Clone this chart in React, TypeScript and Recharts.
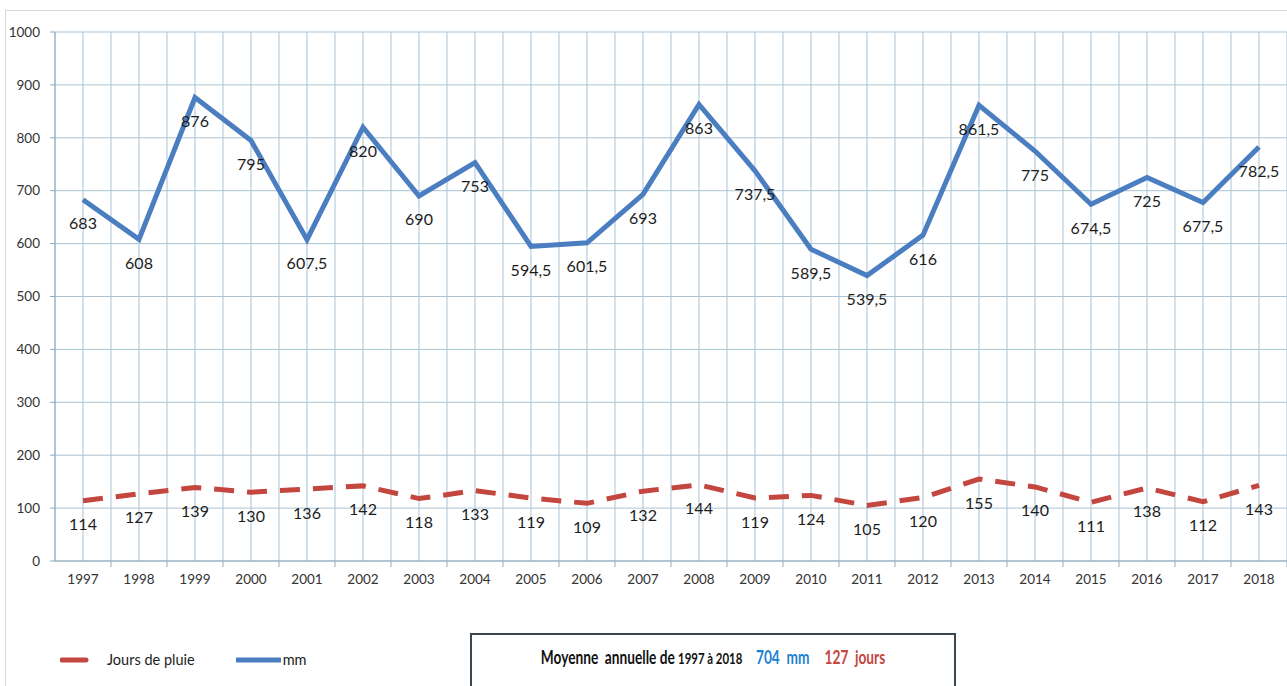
import React from 'react'
import { LineChart, Line, XAxis, YAxis, CartesianGrid, LabelList } from 'recharts'

const years = ['1997', '1998', '1999', '2000', '2001', '2002', '2003', '2004', '2005', '2006', '2007',
  '2008', '2009', '2010', '2011', '2012', '2013', '2014', '2015', '2016', '2017', '2018']
const mm = [683, 608, 876, 795, 607.5, 820, 690, 753, 594.5, 601.5, 693,
  863, 737.5, 589.5, 539.5, 616, 861.5, 775, 674.5, 725, 677.5, 782.5]
const jours = [114, 127, 139, 130, 136, 142, 118, 133, 119, 109, 132,
  144, 119, 124, 105, 120, 155, 140, 111, 138, 112, 143]
const yTicks = [0, 100, 200, 300, 400, 500, 600, 700, 800, 900, 1000]

const data = years.map((y, i) => ({ year: y, mm: mm[i], jours: jours[i] }))

const W = 1287
const H = 686
const Y_AXIS_W = 55
const HALF_BAND = (W - Y_AXIS_W) / years.length / 2
const FONT = 'Lato, "Noto Sans", sans-serif'
const BLUE = '#4a7ec0'
const RED = '#c3463f'
const GRID = '#a9c3d5'

const fmt = (v: number) => String(v).replace('.', ',')

// value labels sit just under each point
const PointLabel = (props: any) => {
  const { x, y, value } = props
  return (
    <text x={x} y={y + 23} textAnchor="middle" dominantBaseline="central"
      fontFamily={FONT} fontSize={16} fill="#1c1c1c">{fmt(value)}</text>
  )
}

// year label plus the tick mark between categories
const YearTick = (props: any) => {
  const { x, y, payload } = props
  return (
    <g>
      <line x1={x + HALF_BAND} x2={x + HALF_BAND} y1={y - 13} y2={y - 7} stroke="#8ea9bb" />
      <text x={x} y={y} dy="0.71em" textAnchor="middle" fontFamily={FONT} fontSize={13.5} fill="#333">{payload.value}</text>
    </g>
  )
}

const App: React.FC = () => {
  return (
    <div style={{ position: 'absolute', left: 0, top: 0, width: W, height: H, overflow: 'hidden', background: '#fff' }}>
      <div style={{ position: 'absolute', left: 5, top: 10, width: W, height: H, border: '1px solid #ddd6d4' }} />
      <div style={{ position: 'absolute', left: 0, top: 0 }}>
        <LineChart width={W} height={H} data={data} margin={{ top: 32, right: 0, left: 0, bottom: 95 }}>
          <CartesianGrid stroke={GRID}
            verticalCoordinatesGenerator={({ offset }: any) => {
              const n = years.length * 2
              const step = offset.width / n
              return Array.from({ length: n + 1 }, (_, k) => offset.left + k * step)
            }} />
          <XAxis dataKey="year" scale="band" height={30} tickSize={6} tickMargin={7}
            tickLine={false} stroke="#8ea9bb" tick={<YearTick />} interval={0} />
          <YAxis width={Y_AXIS_W} domain={[0, 1000]} ticks={yTicks} tickSize={5} tickMargin={10}
            stroke="#8ea9bb" tick={{ fontFamily: FONT, fontSize: 13.5, fill: '#333' }} />
          <Line dataKey="jours" stroke={RED} strokeWidth={5} strokeDasharray="20 13"
            dot={false} isAnimationActive={false}>
            <LabelList dataKey="jours" content={<PointLabel />} />
          </Line>
          <Line dataKey="mm" stroke={BLUE} strokeWidth={5} dot={false} isAnimationActive={false}>
            <LabelList dataKey="mm" content={<PointLabel />} />
          </Line>
        </LineChart>
      </div>

      <div style={{ position: 'absolute', left: 60, top: 651, display: 'flex', alignItems: 'center', fontFamily: FONT, fontSize: 14.5, color: '#222' }}>
        <svg width={30} height={10}><line x1={2} x2={26} y1={5} y2={5} stroke={RED} strokeWidth={5} strokeLinecap="round" /></svg>
        <span style={{ marginLeft: 17 }}>Jours de pluie</span>
        <svg width={48} height={10} style={{ marginLeft: 40 }}><line x1={1} x2={46} y1={5} y2={5} stroke={BLUE} strokeWidth={5} /></svg>
        <span>mm</span>
      </div>

      <div style={{ position: 'absolute', left: 470, top: 633, width: 482, height: 80, border: '2px solid #3a4650',
        fontFamily: FONT, fontWeight: 700, textAlign: 'center' }}>
        <div style={{ marginTop: 11, fontSize: 18, whiteSpace: 'nowrap', transform: 'scaleX(0.76)', transformOrigin: 'center' }}>
          <span style={{ color: '#111' }}>Moyenne&nbsp; annuelle de&nbsp;</span>
          <span style={{ color: '#111', fontSize: 15 }}>1997 à 2018</span>
          <span style={{ color: '#1f7fd0', marginLeft: 18 }}>704&nbsp; mm</span>
          <span style={{ color: RED, marginLeft: 20 }}>127&nbsp; jours</span>
        </div>
      </div>
    </div>
  )
}

export default App
